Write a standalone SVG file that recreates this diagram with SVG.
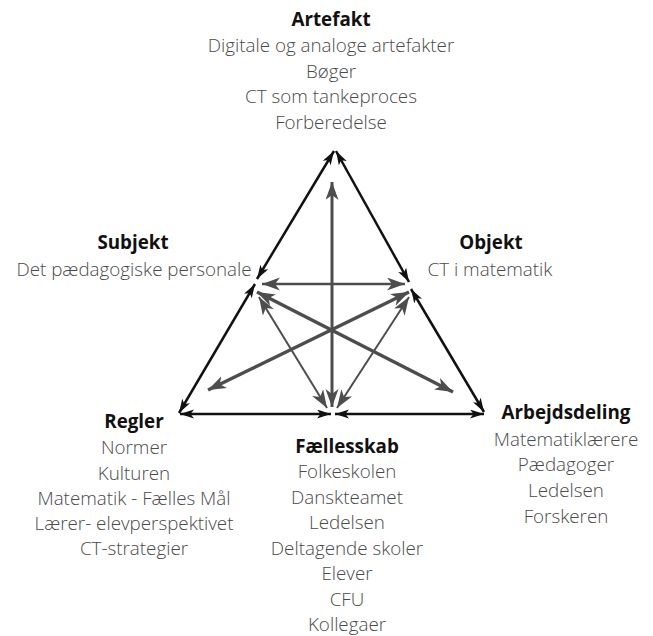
<svg xmlns="http://www.w3.org/2000/svg" width="653" height="636" viewBox="0 0 653 636">
<defs>
<marker id="bk" markerUnits="userSpaceOnUse" markerWidth="16" markerHeight="10" refX="14" refY="4.5" orient="auto-start-reverse"><path d="M0,0 L14,4.5 L0,9 L3.5,4.5 z" fill="#111"/></marker>
<marker id="gr" markerUnits="userSpaceOnUse" markerWidth="20" markerHeight="14" refX="18" refY="6.5" orient="auto-start-reverse"><path d="M0,0 L18,6.5 L0,13 L5,6.5 z" fill="#4d4d4d"/></marker>
</defs>
<style>
text{font-family:"Open Sans","Liberation Sans",sans-serif;font-size:18.8px;text-anchor:middle}
.t{font-weight:700;fill:#111}
.b{font-weight:300;fill:#4a4a4a}
.k{stroke:#111;stroke-width:2.5;fill:none;marker-start:url(#bk);marker-end:url(#bk)}
.g{stroke:#4d4d4d;fill:none;marker-start:url(#gr);marker-end:url(#gr)}
</style>
<rect width="653" height="636" fill="#fff"/>
<g id="connectors">
<line class="k" x1="334" y1="151" x2="257" y2="279"/>
<line class="k" x1="255" y1="284" x2="179" y2="413"/>
<line class="k" x1="336" y1="151" x2="409" y2="282"/>
<line class="k" x1="411" y1="289" x2="484" y2="412"/>
<line class="k" x1="180" y1="414" x2="331" y2="414"/>
<line class="k" x1="335" y1="414" x2="484" y2="414"/>
<line class="g" stroke-width="3" x1="332" y1="182" x2="332" y2="407"/>
<line class="g" stroke-width="2.5" x1="262" y1="284" x2="405" y2="284"/>
<line class="g" stroke-width="3.5" x1="257" y1="292" x2="453" y2="392"/>
<line class="g" stroke-width="3.5" x1="409" y1="292" x2="208" y2="390"/>
<line class="g" stroke-width="2" x1="259" y1="297" x2="327" y2="408"/>
<line class="g" stroke-width="2" x1="409" y1="297" x2="337" y2="408"/>
</g>
<g id="artefakt">
<text class="t" x="331" y="26">Artefakt</text>
<text class="b" x="331" y="52">Digitale og analoge artefakter</text>
<text class="b" x="331" y="78">Bøger</text>
<text class="b" x="331" y="103">CT som tankeproces</text>
<text class="b" x="331" y="129">Forberedelse</text>
</g>
<g id="subjekt">
<text class="t" x="133" y="249">Subjekt</text>
<text class="b" x="134" y="276">Det pædagogiske personale</text>
</g>
<g id="objekt">
<text class="t" x="491" y="249">Objekt</text>
<text class="b" x="490" y="276">CT i matematik</text>
</g>
<g id="regler">
<text class="t" x="134" y="428">Regler</text>
<text class="b" x="134" y="454">Normer</text>
<text class="b" x="134" y="480">Kulturen</text>
<text class="b" x="134" y="505">Matematik - Fælles Mål</text>
<text class="b" x="134" y="530">Lærer- elevperspektivet</text>
<text class="b" x="134" y="555">CT-strategier</text>
</g>
<g id="faellesskab">
<text class="t" x="347" y="453">Fællesskab</text>
<text class="b" x="347" y="478">Folkeskolen</text>
<text class="b" x="347" y="504">Danskteamet</text>
<text class="b" x="347" y="529">Ledelsen</text>
<text class="b" x="347" y="555">Deltagende skoler</text>
<text class="b" x="347" y="580">Elever</text>
<text class="b" x="347" y="606">CFU</text>
<text class="b" x="347" y="631">Kollegaer</text>
</g>
<g id="arbejdsdeling">
<text class="t" x="566" y="419">Arbejdsdeling</text>
<text class="b" x="566" y="446">Matematiklærere</text>
<text class="b" x="566" y="471">Pædagoger</text>
<text class="b" x="566" y="497">Ledelsen</text>
<text class="b" x="566" y="523">Forskeren</text>
</g>
</svg>
